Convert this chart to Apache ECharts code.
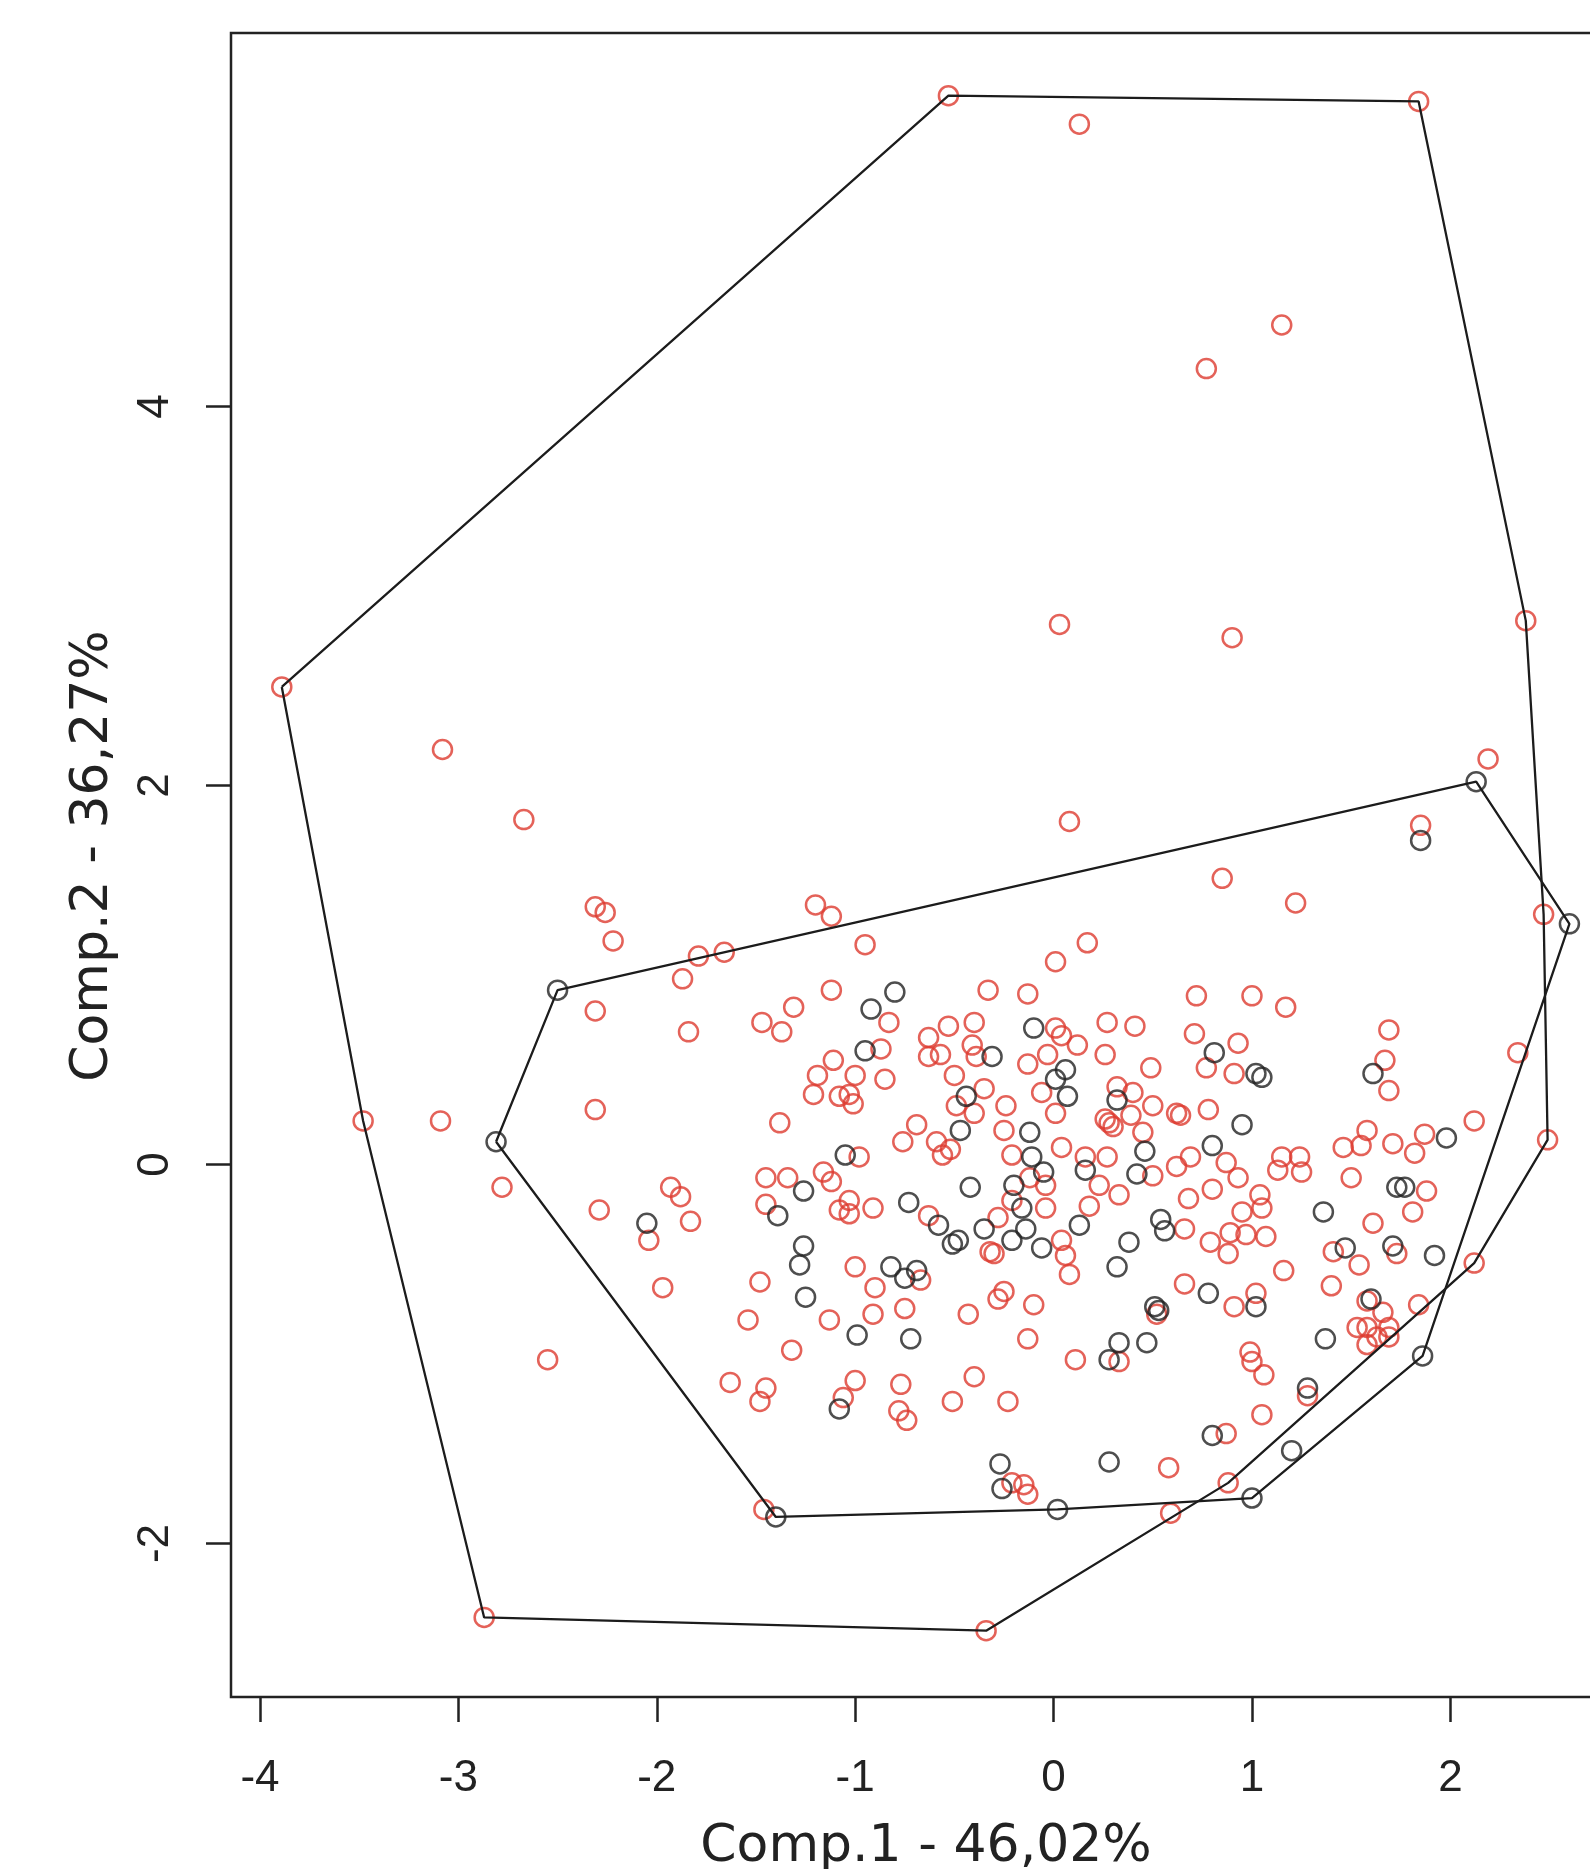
<!DOCTYPE html>
<html>
<head>
<meta charset="utf-8">
<title>Comp.1 / Comp.2</title>
<script src="https://cdn.jsdelivr.net/npm/echarts@6/dist/echarts.min.js"></script>
<style>
  html, body { margin: 0; padding: 0; background: #fff; }
  #main { width: 1590px; height: 1869px; }
</style>
</head>
<body>
<div id="main"></div>
<script>
// tick values
const xTicks = [-4, -3, -2, -1, 0, 1, 2]
const yTicks = [-2, 0, 2, 4]

// group 1 (red)
const redPoints = [
  [-0.53, 5.64], [0.13, 5.49], [1.84, 5.61], [1.15, 4.43], [0.77, 4.20], [0.03, 2.85], [0.90, 2.78], [2.38, 2.87],
  [-3.89, 2.52], [-3.08, 2.19], [-2.67, 1.82], [0.08, 1.81], [2.19, 2.14], [1.85, 1.79], [0.85, 1.51], [1.22, 1.38], [2.47, 1.32],
  [-2.31, 1.36], [-2.26, 1.33], [-2.22, 1.18], [-1.20, 1.37], [-1.12, 1.31], [-0.95, 1.16], [0.01, 1.07], [0.17, 1.17],
  [-1.79, 1.10], [-1.66, 1.12], [-1.87, 0.98], [-2.31, 0.81], [-1.12, 0.92], [-1.31, 0.83], [-0.33, 0.92], [-0.13, 0.90],
  [0.72, 0.89], [1.00, 0.89], [1.17, 0.83],
  [-3.48, 0.23], [-3.09, 0.23], [-2.31, 0.29], [-2.78, -0.12], [-2.55, -1.03], [-2.87, -2.39], [-0.34, -2.46],
  [2.49, 0.13], [2.34, 0.59], [2.12, 0.23], [2.12, -0.52],
  [-1.84, 0.70], [-1.47, 0.75], [-1.37, 0.70], [-1.11, 0.55], [-1.19, 0.47], [-1.21, 0.37], [-1.08, 0.36], [-1.38, 0.22],
  [-2.29, -0.24], [-1.93, -0.12], [-1.88, -0.17], [-1.83, -0.30], [-2.04, -0.40], [-1.97, -0.65],
  [-1.45, -0.07], [-1.34, -0.07], [-1.45, -0.21], [-1.16, -0.04], [-1.12, -0.09], [-1.08, -0.24], [-1.48, -0.62],
  [-1.54, -0.82], [-1.13, -0.82],
  [-1.32, -0.98], [-1.63, -1.15], [-1.45, -1.18], [-1.48, -1.25], [-1.46, -1.82],
  [-0.13, -0.92], [0.11, -1.03], [0.33, -1.04], [-1.00, -1.14], [-1.06, -1.23], [-0.77, -1.16], [-0.78, -1.30],
  [-0.74, -1.35], [-0.51, -1.25], [-0.40, -1.12], [-0.23, -1.25], [-0.21, -1.68], [-0.15, -1.69], [-0.13, -1.74],
  [0.58, -1.60], [0.59, -1.84],
  [0.99, -0.99], [1.00, -1.04], [1.06, -1.11], [1.28, -1.22], [1.05, -1.32], [1.58, -0.95], [1.63, -0.91], [1.69, -0.91],
  [0.87, -1.42], [0.88, -1.68],
  [1.69, 0.71], [0.93, 0.64], [1.67, 0.55], [1.69, 0.39], [0.91, 0.48], [1.58, 0.18], [1.46, 0.09], [1.55, 0.10],
  [1.71, 0.11], [1.87, 0.16], [1.82, 0.06], [1.50, -0.07], [1.15, 0.04], [1.24, 0.04], [1.13, -0.03], [1.25, -0.04],
  [0.87, 0.01], [0.93, -0.07], [1.88, -0.14], [1.81, -0.25], [1.04, -0.16], [1.05, -0.23], [0.95, -0.25], [0.89, -0.36],
  [0.97, -0.37], [1.07, -0.38], [0.88, -0.47], [1.61, -0.31], [1.41, -0.46], [1.54, -0.53], [1.73, -0.47], [1.16, -0.56],
  [1.40, -0.64], [0.91, -0.75], [1.02, -0.68], [1.58, -0.72], [1.66, -0.78], [1.84, -0.74], [1.53, -0.86], [1.58, -0.86],
  [1.69, -0.86],
  [-0.83, 0.75], [-0.53, 0.73], [-0.40, 0.75], [0.01, 0.72], [0.04, 0.68], [0.27, 0.75], [0.41, 0.73], [0.71, 0.69],
  [0.77, 0.51], [-0.63, 0.67], [-0.87, 0.61], [-0.63, 0.57], [-0.57, 0.58], [-0.41, 0.63], [-0.39, 0.57], [-0.13, 0.53],
  [-0.03, 0.58], [0.12, 0.63], [0.26, 0.58], [0.49, 0.51],
  [-1.00, 0.47], [-0.85, 0.45], [-0.50, 0.47], [-0.35, 0.40], [-0.49, 0.31], [-0.40, 0.27], [-1.03, 0.37], [-1.01, 0.32],
  [-0.24, 0.31], [-0.06, 0.38], [0.01, 0.27], [0.32, 0.41], [0.40, 0.38], [0.50, 0.31], [0.62, 0.27], [0.64, 0.26],
  [0.78, 0.29], [0.28, 0.22], [0.30, 0.20], [0.26, 0.24], [0.39, 0.26],
  [-0.69, 0.21], [-0.76, 0.12], [-0.59, 0.12], [-0.52, 0.08], [-0.56, 0.05], [-0.25, 0.18], [0.04, 0.09], [-0.21, 0.05],
  [0.16, 0.04], [0.27, 0.04], [0.45, 0.17], [0.62, -0.01], [0.69, 0.04], [-0.98, 0.04],
  [-0.12, -0.07], [-0.04, -0.11], [-0.04, -0.23], [-0.21, -0.19], [-0.91, -0.23], [-1.03, -0.19], [-1.03, -0.26],
  [-0.63, -0.27], [0.18, -0.22], [0.23, -0.11], [0.33, -0.16], [0.50, -0.06], [0.68, -0.18], [0.80, -0.13], [0.79, -0.41],
  [0.66, -0.34], [-0.28, -0.28], [-0.32, -0.46], [-0.30, -0.47], [0.04, -0.40], [0.06, -0.48], [0.08, -0.58], [0.66, -0.63],
  [-1.00, -0.54], [-0.90, -0.65], [-0.67, -0.61], [-0.91, -0.79], [-0.75, -0.76], [-0.43, -0.79], [-0.25, -0.67],
  [-0.28, -0.71], [-0.10, -0.74], [0.52, -0.79]
]

// group 2 (black)
const blackPoints = [
  [2.13, 2.02], [1.85, 1.71], [2.60, 1.27], [-2.50, 0.92], [-2.81, 0.12], [-0.80, 0.91], [-0.92, 0.82],
  [1.61, 0.48], [1.02, 0.48], [1.05, 0.46], [0.81, 0.59], [0.95, 0.21], [1.98, 0.14], [1.73, -0.12], [1.77, -0.12],
  [1.36, -0.25], [1.47, -0.44], [1.71, -0.43], [1.92, -0.48], [1.02, -0.75], [1.60, -0.71], [1.37, -0.92],
  [1.28, -1.18], [1.86, -1.01], [0.80, -1.43], [1.20, -1.51], [1.00, -1.76],
  [-0.99, -0.90], [-0.72, -0.92], [0.33, -0.94], [0.47, -0.94], [0.28, -1.03], [-1.08, -1.29], [-0.27, -1.58],
  [-0.26, -1.71], [0.02, -1.82], [0.28, -1.57], [-1.40, -1.86],
  [-2.05, -0.31], [-1.26, -0.14], [-1.39, -0.27], [-1.05, 0.05], [-1.26, -0.43], [-1.28, -0.53], [-1.25, -0.70],
  [-0.10, 0.72], [-0.95, 0.60], [-0.31, 0.57], [0.06, 0.50], [0.01, 0.45], [0.07, 0.36], [-0.44, 0.36], [0.32, 0.34],
  [-0.47, 0.18], [-0.12, 0.17], [-0.11, 0.04], [0.16, -0.03], [0.46, 0.07], [0.80, 0.10], [-0.05, -0.04], [-0.20, -0.11],
  [-0.16, -0.23], [-0.42, -0.12], [-0.73, -0.20], [0.42, -0.05], [0.54, -0.29], [0.56, -0.35], [-0.58, -0.32],
  [-0.51, -0.42], [-0.48, -0.40], [-0.35, -0.34], [-0.21, -0.40], [-0.14, -0.34], [-0.06, -0.44], [0.13, -0.32],
  [0.38, -0.41], [0.32, -0.54], [0.78, -0.68], [-0.82, -0.54], [-0.75, -0.60], [-0.69, -0.56], [0.51, -0.75], [0.53, -0.77]
]

const xName = 'Comp.1 - 46,02%'
const yName = 'Comp.2 - 36,27%'

// convex hull (monotone chain), closed ring like chull() + polygon()
const convexHull = pts => {
  const p = pts.slice().sort((a, b) => a[0] - b[0] || a[1] - b[1])
  const cross = (o, a, b) => (a[0] - o[0]) * (b[1] - o[1]) - (a[1] - o[1]) * (b[0] - o[0])
  const lower = []
  const upper = []
  for (const q of p) {
    while (lower.length >= 2 && cross(lower[lower.length - 2], lower[lower.length - 1], q) <= 0) lower.pop()
    lower.push(q)
  }
  for (const q of p.slice().reverse()) {
    while (upper.length >= 2 && cross(upper[upper.length - 2], upper[upper.length - 1], q) <= 0) upper.pop()
    upper.push(q)
  }
  lower.pop()
  upper.pop()
  const ring = lower.concat(upper)
  ring.push(ring[0])
  return ring
}

const chart = echarts.init(document.getElementById('main'))

const circleStyle = color => ({
  color: 'rgba(0,0,0,0)',
  borderColor: color,
  borderWidth: 2.5
})

const hullSeries = pts => ({
  type: 'line',
  data: convexHull(pts),
  showSymbol: false,
  symbol: 'none',
  silent: true,
  animation: false,
  lineStyle: { color: '#1c1c1c', width: 2.3 },
  z: 5
})

const axisText = {
  color: '#222',
  fontFamily: 'Liberation Sans',
  fontSize: 44
}

const option = {
  backgroundColor: '#fff',
  animation: false,
  grid: {
    left: 231,
    top: 33,
    width: 1390, // plot box runs past the right edge of the picture
    height: 1664,
    outerBoundsMode: 'none',
    show: true,
    borderColor: '#222',
    borderWidth: 2.5,
    backgroundColor: 'transparent'
  },
  xAxis: {
    type: 'value',
    min: -4.146,
    max: 2.86,
    name: xName,
    nameLocation: 'middle',
    nameGap: 124,
    nameTextStyle: { color: '#222', fontFamily: 'DejaVu Sans', fontSize: 52 },
    axisLine: { show: false, onZero: false },
    splitLine: { show: false },
    axisTick: {
      show: true,
      length: 25,
      customValues: xTicks,
      lineStyle: { color: '#222', width: 2.5 }
    },
    axisLabel: Object.assign({ margin: 60, customValues: xTicks }, axisText)
  },
  yAxis: {
    type: 'value',
    min: -2.81,
    max: 5.971,
    name: yName,
    nameLocation: 'middle',
    nameGap: 112,
    nameTextStyle: { color: '#222', fontFamily: 'DejaVu Sans', fontSize: 52, padding: [0, 0, 0, 18] },
    axisLine: { show: false, onZero: false },
    splitLine: { show: false },
    axisTick: {
      show: true,
      length: 25,
      customValues: yTicks,
      lineStyle: { color: '#222', width: 2.5 }
    },
    axisLabel: Object.assign({ margin: 53, rotate: 90, customValues: yTicks }, axisText)
  },
  series: [
    {
      type: 'scatter',
      data: redPoints,
      symbol: 'circle',
      symbolSize: 19,
      itemStyle: circleStyle('#dd3b30'),
      z: 2
    },
    {
      type: 'scatter',
      data: blackPoints,
      symbol: 'circle',
      symbolSize: 19,
      itemStyle: circleStyle('#222'),
      z: 3
    },
    hullSeries(redPoints),
    hullSeries(blackPoints)
  ]
}

chart.setOption(option)
</script>
</body>
</html>
